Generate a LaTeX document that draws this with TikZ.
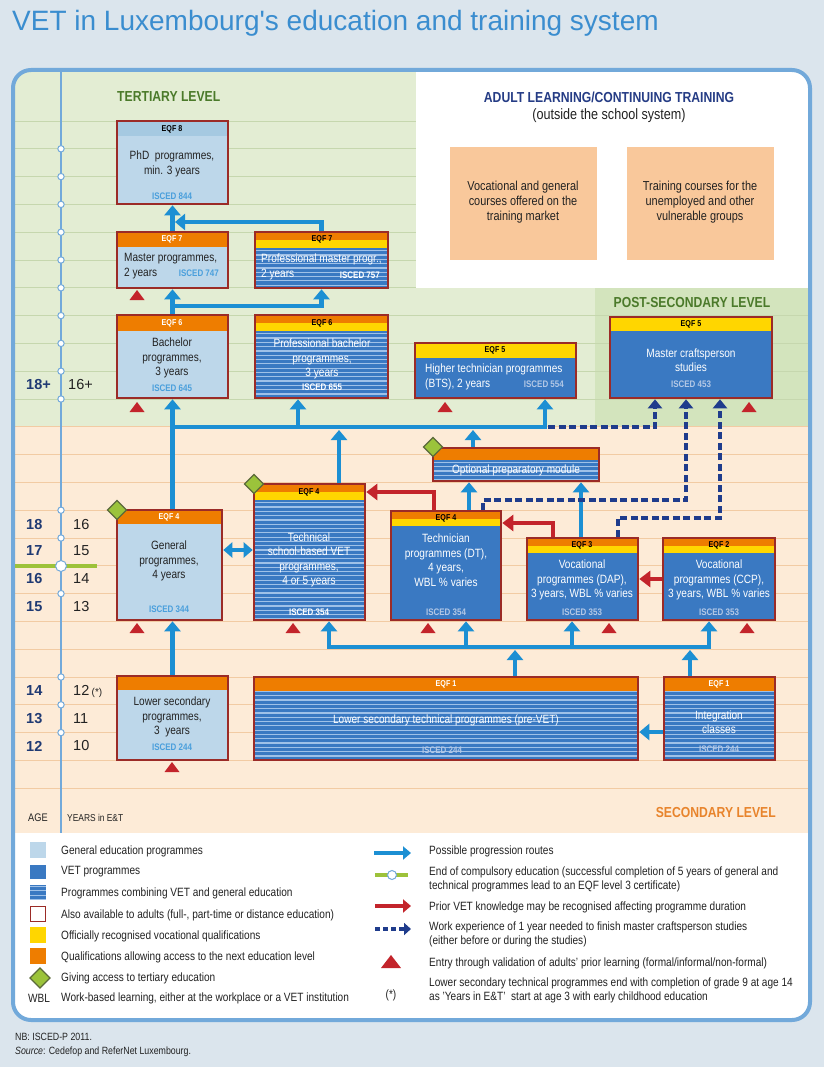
\documentclass[tikz,border=0pt]{standalone}
\usepackage{fontspec}
\setmainfont{Liberation Sans}[FakeStretch=0.84]
\newfontfamily\widefont{Liberation Sans}
\usetikzlibrary{arrows.meta,fit}
\definecolor{pagebg}{HTML}{DBE5ED}
\definecolor{framec}{HTML}{72A9DA}
\definecolor{tertbg}{HTML}{E3EDD3}
\definecolor{postbg}{HTML}{D3E4BD}
\definecolor{secbg}{HTML}{FDEBD7}
\definecolor{gridg}{HTML}{C6D7AE}
\definecolor{gridp}{HTML}{F2CBA3}
\definecolor{boxred}{HTML}{9B2B27}
\definecolor{genblue}{HTML}{BDD7EA}
\definecolor{genhead}{HTML}{A5C9E1}
\definecolor{vetblue}{HTML}{3A79C2}
\definecolor{stripec}{HTML}{9FC1E8}
\definecolor{qorange}{HTML}{EE7D00}
\definecolor{qyellow}{HTML}{FFD600}
\definecolor{arrblue}{HTML}{1C8FD3}
\definecolor{arrred}{HTML}{C3242B}
\definecolor{navy}{HTML}{1F3C8C}
\definecolor{dgreen}{HTML}{9BC33B}
\definecolor{dborder}{HTML}{5B6A3A}
\definecolor{txtdark}{HTML}{222222}
\definecolor{isclight}{HTML}{4A9FDC}
\definecolor{iscgrey}{HTML}{B3C8E6}
\definecolor{titleblue}{HTML}{3A8DCF}
\definecolor{tertgreen}{HTML}{4B7A2A}
\definecolor{adultnavy}{HTML}{253C85}
\definecolor{secorange}{HTML}{E8842C}
\definecolor{adultbox}{HTML}{F9C89B}
\definecolor{agenavy}{HTML}{1F3A73}
\definecolor{greenline}{HTML}{9DC23A}

\newcommand\genbody[4]{\fill[genblue] (#1,#2) rectangle (#3,#4);}
\newcommand\vetbody[4]{\fill[vetblue] (#1,#2) rectangle (#3,#4);}
\newcommand\stripebody[4]{%
  \begin{scope}
    \clip (#1,#2) rectangle (#3,#4);
    \fill[vetblue] (#1,#2) rectangle (#3,#4);
    \foreach \k in {0,...,34} {\draw[stripec, line width=1.2pt] (#1,#2+1.5+4.3*\k) -- (#3,#2+1.5+4.3*\k);}
  \end{scope}}
\newcommand\band[5]{\fill[#1] (#2,#3) rectangle (#4,#5);}
\newcommand\redtri[2]{\fill[arrred] (#1,#2) -- (#1+7.5,#2+10) -- (#1-7.5,#2+10) -- cycle;}
\newcommand\gdiam[3]{\filldraw[fill=dgreen, draw=dborder, line width=1.2pt] (#1-#3,#2) -- (#1,#2-#3) -- (#1+#3,#2) -- (#1,#2+#3) -- cycle;}

\begin{document}
\begin{tikzpicture}[x=1pt,y=-1pt,
  boxframe/.style={draw=boxred, line width=2.6pt, inner sep=0pt},
  barrow/.style={draw=arrblue, line width=4.5pt, -{Triangle[width=16pt,length=10pt]}},
  bdarrow/.style={draw=arrblue, line width=4.5pt, {Triangle[width=15pt,length=9pt]}-{Triangle[width=15pt,length=9pt]}},
  rarrow/.style={draw=arrred, line width=4.5pt, -{Triangle[width=16pt,length=11pt]}},
  darrow/.style={draw=navy, line width=3.8pt, dash pattern=on 7pt off 3.5pt, -{Triangle[width=14pt,length=9pt]}},
  t/.style={inner sep=0pt, align=center, font=\fontsize{12}{14.5}\selectfont},
  tdark/.style={t, text=txtdark},
  twhite/.style={t, text=white},
  eqfw/.style={inner sep=0pt, font=\bfseries\fontsize{8.5}{9}\selectfont, text=white},
  eqfk/.style={inner sep=0pt, font=\bfseries\fontsize{8.5}{9}\selectfont, text=black},
  isc/.style={inner sep=0pt, font=\bfseries\fontsize{9.5}{10}\selectfont},
  iscl/.style={isc, text=isclight},
  iscw/.style={isc, text=white},
  iscg/.style={isc, text=iscgrey},
  lvl/.style={inner sep=0pt, font=\bfseries\fontsize{14.5}{15}\selectfont},
  agen/.style={anchor=west, inner sep=0pt, font=\widefont\bfseries\fontsize{14.5}{15}\selectfont, text=agenavy},
  yrs/.style={anchor=west, inner sep=0pt, font=\widefont\fontsize{14.5}{15}\selectfont, text=txtdark},
  leg/.style={anchor=west, inner sep=0pt, align=left, font=\fontsize{12}{14}\selectfont, text=txtdark},
  abox/.style={inner sep=0pt, align=center, font=\fontsize{13}{15}\selectfont, text=txtdark}
]
\fill[pagebg] (0,0) rectangle (824,1067);
\useasboundingbox (0,0) rectangle (824,1067);
\node[anchor=base west, inner sep=0pt, font=\widefont\fontsize{28}{30}\selectfont, text=titleblue] (title) at (12,31) {VET in Luxembourg's education and training system};

% backgrounds
\begin{scope}
  \clip[rounded corners=18pt] (13,70) rectangle (810,1020);
  \fill[white] (13,70) rectangle (810,1020);
  \fill[tertbg] (13,70) rectangle (810,426);
  \fill[postbg] (595,288) rectangle (810,426);
  \fill[secbg] (13,426) rectangle (810,833);
  \foreach \k in {0,...,10} {\draw[gridg, line width=0.8pt] (13,121+27.8*\k) -- (810,121+27.8*\k);}
  \foreach \k in {11,...,24} {\draw[gridp, line width=0.8pt] (13,121+27.8*\k) -- (810,121+27.8*\k);}
  \fill[white] (416,60) rectangle (815,288);
\end{scope}
\draw[framec, line width=4pt, rounded corners=18pt] (13,70) rectangle (810,1020);
\draw[framec, line width=1.6pt] (61,70) -- (61,833);
\draw[greenline, line width=4pt] (15,566) -- (97,566);
\foreach \k in {1,2,3,4,5,6,7,8,9,10,14,15,17,20,21,22} {\filldraw[fill=white, draw=framec, line width=1pt] (61,121+27.8*\k) circle (3.2pt);}
\filldraw[fill=white, draw=framec, line width=1pt] (61,566) circle (5.5pt);

% ages
\node[agen] (a1) at (26,385) {18+}; \node[yrs] (y1) at (68,385) {16+};
\node[agen] (a2) at (26,525) {18}; \node[yrs] (y2) at (73,525) {16};
\node[agen] (a3) at (26,551) {17}; \node[yrs] (y3) at (73,551) {15};
\node[agen] (a4) at (26,579) {16}; \node[yrs] (y4) at (73,579) {14};
\node[agen] (a5) at (26,607) {15}; \node[yrs] (y5) at (73,607) {13};
\node[agen] (a6) at (26,691) {14}; \node[yrs] (y6) at (73,691) {12\,{\fontsize{10}{10}\selectfont(*)}};
\node[agen] (a7) at (26,719) {13}; \node[yrs] (y7) at (73,719) {11};
\node[agen] (a8) at (26,746) {12}; \node[yrs] (y8) at (73,746) {10};
\node[anchor=west, inner sep=0pt, font=\fontsize{11}{12}\selectfont, text=txtdark] (agelbl) at (28,818) {AGE};
\node[anchor=west, inner sep=0pt, font=\fontsize{10}{12}\selectfont, text=txtdark] (yrslbl) at (67,818) {YEARS in E\&T};

% level labels
\node[lvl, anchor=west, text=tertgreen] (tert) at (117,97) {TERTIARY LEVEL};
\node[lvl, text=adultnavy] (adult) at (609,97) {ADULT LEARNING/CONTINUING TRAINING};
\node[inner sep=0pt, font=\fontsize{15}{16}\selectfont, text=txtdark] (adult2) at (609,116) {(outside the school system)};
\node[lvl, text=tertgreen] (post) at (692,303) {POST-SECONDARY LEVEL};
\node[lvl, anchor=east, text=secorange] (sec) at (776,812) {SECONDARY LEVEL};

% adult boxes
\node[fill=adultbox, inner sep=0pt, fit={(450,147)(597,260)}] (ad1) {};
\node[abox] (ad1t) at (523,202) {Vocational and general\\courses offered on the\\training market};
\node[fill=adultbox, inner sep=0pt, fit={(627,147)(774,260)}] (ad2) {};
\node[abox] (ad2t) at (700,202) {Training courses for the\\unemployed and other\\vulnerable groups};

% PhD
\genbody{117}{121}{228}{204}
\band{genhead}{117}{121}{228}{136}
\node[boxframe, fit={(117,121)(228,204)}] (phd) {};
\node[eqfk] (phde) at (172,129) {EQF 8};
\node[tdark] (phdt) at (172,164) {PhD\ \ programmes,\\min. 3 years};
\node[iscl] (phdi) at (172,196) {ISCED 844};
% Master
\genbody{117}{232}{228}{288}
\band{qorange}{117}{232}{228}{247}
\node[boxframe, fit={(117,232)(228,288)}] (master) {};
\node[eqfw] (mase) at (172,239.5) {EQF 7};
\node[tdark, anchor=west, align=left] (mast) at (124,266) {Master programmes,\\2 years};
\node[iscl, anchor=east] (masi) at (219,273) {ISCED 747};
% Professional master
\stripebody{255}{232}{388}{288}
\band{qorange}{255}{232}{388}{240}
\band{qyellow}{255}{240}{388}{248}
\node[boxframe, fit={(255,232)(388,288)}] (profm) {};
\node[eqfk] (pme) at (322,239.5) {EQF 7};
\node[twhite, anchor=west, align=left] (pmt) at (261,267) {Professional master progr.,\\2 years};
\node[iscw, anchor=east] (pmi) at (380,275) {ISCED 757};
% Bachelor
\genbody{117}{315}{228}{398}
\band{qorange}{117}{315}{228}{331}
\node[boxframe, fit={(117,315)(228,398)}] (bach) {};
\node[eqfw] (bae) at (172,323) {EQF 6};
\node[tdark] (bat) at (172,358) {Bachelor\\programmes,\\3 years};
\node[iscl] (bai) at (172,388) {ISCED 645};
% Professional bachelor
\stripebody{255}{315}{388}{398}
\band{qorange}{255}{315}{388}{323}
\band{qyellow}{255}{323}{388}{331}
\node[boxframe, fit={(255,315)(388,398)}] (pb) {};
\node[eqfk] (pbe) at (322,323) {EQF 6};
\node[twhite] (pbt) at (322,359) {Professional bachelor\\programmes,\\3 years};
\node[iscw] (pbi) at (322,387) {ISCED 655};
% BTS
\vetbody{415}{343}{576}{398}
\band{qyellow}{415}{343}{576}{358}
\node[boxframe, fit={(415,343)(576,398)}] (bts) {};
\node[eqfk] (btse) at (495,350.5) {EQF 5};
\node[twhite, anchor=west, align=left] (btst) at (425,377) {Higher technician programmes\\(BTS), 2 years};
\node[iscg, anchor=east] (btsi) at (564,384) {ISCED 554};
% Master craftsperson
\vetbody{610}{317}{772}{398}
\band{qyellow}{610}{317}{772}{331}
\node[boxframe, fit={(610,317)(772,398)}] (mc) {};
\node[eqfk] (mce) at (691,324) {EQF 5};
\node[twhite] (mct) at (691,360) {Master craftsperson\\studies};
\node[iscg] (mci) at (691,384) {ISCED 453};
% Optional preparatory module
\stripebody{433}{448}{599}{481}
\band{qorange}{433}{448}{599}{460}
\node[boxframe, fit={(433,448)(599,481)}] (opt) {};
\node[twhite] (optt) at (516,470) {Optional preparatory module};
% General
\genbody{117}{510}{222}{620}
\band{qorange}{117}{510}{222}{524}
\node[boxframe, fit={(117,510)(222,620)}] (gen) {};
\node[eqfw] (gene) at (169,517) {EQF 4};
\node[tdark] (gent) at (169,561) {General\\programmes,\\4 years};
\node[iscl] (geni) at (169,609) {ISCED 344};
% Technical school-based
\stripebody{254}{484}{365}{620}
\band{qorange}{254}{484}{365}{492}
\band{qyellow}{254}{492}{365}{500}
\node[boxframe, fit={(254,484)(365,620)}] (tech) {};
\node[eqfk] (tece) at (309,492) {EQF 4};
\node[twhite] (tect) at (309,560) {Technical\\school-based VET\\programmes,\\4 or 5 years};
\node[iscw] (teci) at (309,612) {ISCED 354};
% Technician DT
\vetbody{391}{511}{501}{620}
\band{qorange}{391}{511}{501}{519}
\band{qyellow}{391}{519}{501}{526}
\node[boxframe, fit={(391,511)(501,620)}] (dt) {};
\node[eqfk] (dte) at (446,518.5) {EQF 4};
\node[twhite] (dtt) at (446,560) {Technician\\programmes (DT),\\4 years,\\WBL \% varies};
\node[iscg] (dti) at (446,612) {ISCED 354};
% DAP
\vetbody{527}{538}{638}{620}
\band{qorange}{527}{538}{638}{546}
\band{qyellow}{527}{546}{638}{553}
\node[boxframe, fit={(527,538)(638,620)}] (dap) {};
\node[eqfk] (dape) at (582,545.5) {EQF 3};
\node[twhite] (dapt) at (582,580) {Vocational\\programmes (DAP),\\3 years, WBL \% varies};
\node[iscg] (dapi) at (582,612) {ISCED 353};
% CCP
\vetbody{663}{538}{775}{620}
\band{qorange}{663}{538}{775}{546}
\band{qyellow}{663}{546}{775}{553}
\node[boxframe, fit={(663,538)(775,620)}] (ccp) {};
\node[eqfk] (ccpe) at (719,545.5) {EQF 2};
\node[twhite] (ccpt) at (719,580) {Vocational\\programmes (CCP),\\3 years, WBL \% varies};
\node[iscg] (ccpi) at (719,612) {ISCED 353};
% Lower secondary
\genbody{117}{676}{228}{760}
\band{qorange}{117}{676}{228}{690}
\node[boxframe, fit={(117,676)(228,760)}] (lower) {};
\node[tdark] (lowt) at (172,717) {Lower secondary\\programmes,\\3\ \ years};
\node[iscl] (lowi) at (172,747) {ISCED 244};
% pre-VET
\stripebody{254}{677}{638}{760}
\band{qorange}{254}{677}{638}{691}
\node[boxframe, fit={(254,677)(638,760)}] (prevet) {};
\node[eqfw] (pve) at (446,684) {EQF 1};
\node[twhite] (pvt) at (446,720) {Lower secondary technical programmes (pre-VET)};
\node[iscg] (pvi) at (442,750) {ISCED 244};
% Integration
\stripebody{664}{677}{775}{760}
\band{qorange}{664}{677}{775}{691}
\node[boxframe, fit={(664,677)(775,760)}] (integ) {};
\node[eqfw] (ine) at (719,684) {EQF 1};
\node[twhite] (int) at (719,722) {Integration\\classes};
\node[iscg] (ini) at (719,749) {ISCED 244};

% junction coordinates
\coordinate (jPhD) at (175,222);
\coordinate (jB) at (172,306);
\coordinate (m1) at (172,427);
\coordinate (m2) at (545,427);
\coordinate (m3) at (298,427);
\coordinate (t1) at (339,430);
\coordinate (o1) at (473,430);
\coordinate (d0) at (548,427);
\coordinate (d1) at (655,427);
\coordinate (d2) at (483,500);
\coordinate (d3) at (686,500);
\coordinate (d4) at (618,518);
\coordinate (d5) at (720,518);
\coordinate (o2) at (469,0);
\coordinate (o3) at (581,0);
\coordinate (r1) at (434,492);
\coordinate (r2) at (553,523);
\coordinate (r3) at (0,579);
\coordinate (g1) at (0,550);
\coordinate (n1) at (329,647);
\coordinate (n2) at (466,647);
\coordinate (n3) at (572,647);
\coordinate (n4) at (709,647);
\coordinate (n5) at (515,650);
\coordinate (n6) at (690,650);
\coordinate (i1) at (0,732);

% blue progression arrows
\draw[barrow] (master.north) -- (phd.south);
\draw[barrow] (profm.north) |- (jPhD);
\draw[barrow] (bach.north) -- (master.south);
\draw[barrow] (jB) -| (profm.south);
\draw[barrow] (bach.south |- gen.north) -- (bach.south);
\draw[barrow] (m1) -- (m2) -- (m2 |- bts.south);
\draw[barrow] (m3) -- (m3 |- pb.south);
\draw[barrow] (t1 |- tech.north) -- (t1);
\draw[barrow] (o1 |- opt.north) -- (o1);
\draw[barrow] (o2 |- dt.north) -- (o2 |- opt.south);
\draw[barrow] (o3 |- dap.north) -- (o3 |- opt.south);
\draw[bdarrow] (gen.east |- g1) -- (tech.west |- g1);
\draw[barrow] (lower.north) -- (lower.north |- gen.south);
\draw[barrow] (n4) -- (n1) -- (n1 |- tech.south);
\draw[barrow] (n1) -- (n4) -- (n4 |- ccp.south);
\draw[barrow] (n2) -- (n2 |- dt.south);
\draw[barrow] (n3) -- (n3 |- dap.south);
\draw[barrow] (n5 |- prevet.north) -- (n5);
\draw[barrow] (n6 |- integ.north) -- (n6);
\draw[barrow] (integ.west |- i1) -- (prevet.east |- i1);

% dashed work experience
\draw[darrow] (d0) -- (d1) -- (d1 |- mc.south);
\draw[darrow] (d2 |- dt.north) -- (d2) -- (d3) -- (d3 |- mc.south);
\draw[darrow] (d4 |- dap.north) -- (d4) -- (d5) -- (d5 |- mc.south);

% red prior VET knowledge
\draw[rarrow] (r1 |- dt.north) -- (r1) -- (r1 -| tech.east);
\draw[rarrow] (r2 |- dap.north) -- (r2) -- (r2 -| dt.east);
\draw[rarrow] (ccp.west |- r3) -- (dap.east |- r3);

% red triangles
\redtri{137}{290}
\redtri{137}{402}
\redtri{445}{402}
\redtri{749}{402}
\redtri{137}{623}
\redtri{293}{623}
\redtri{428}{623}
\redtri{609}{623}
\redtri{747}{623}
\redtri{172}{762}

% diamonds
\gdiam{117}{510}{9.5}
\gdiam{254}{484}{9.5}
\gdiam{433}{447}{9.5}

% legend left
\fill[genblue] (30,842) rectangle (46,858);
\fill[vetblue] (30,865) rectangle (46,879);
\stripebody{30}{885}{46}{900}
\draw[boxred, line width=1.2pt, fill=white] (30.6,906.6) rectangle (45.4,921.4);
\fill[qyellow] (30,927) rectangle (46,943);
\fill[qorange] (30,948) rectangle (46,964);
\gdiam{40}{978}{10}
\node[inner sep=0pt, font=\fontsize{12}{14}\selectfont, text=txtdark] (wbl) at (39,998) {WBL};
\node[leg] (l1) at (61,851) {General education programmes};
\node[leg] (l2) at (61,872) {VET programmes};
\node[leg] (l3) at (61,893) {Programmes combining VET and general education};
\node[leg] (l4) at (61,915) {Also available to adults (full-, part-time or distance education)};
\node[leg] (l5) at (61,936) {Officially recognised vocational qualifications};
\node[leg] (l6) at (61,957) {Qualifications allowing access to the next education level};
\node[leg] (l7) at (61,978) {Giving access to tertiary education};
\node[leg] (l8) at (61,998) {Work-based learning, either at the workplace or a VET institution};

% legend right
\coordinate (la1) at (374,853); \coordinate (la2) at (411,853);
\draw[draw=arrblue, line width=4.5pt, -{Triangle[width=13pt,length=8pt]}] (la1) -- (la2);
\coordinate (lg1) at (375,875); \coordinate (lg2) at (408,875);
\draw[greenline, line width=4pt] (lg1) -- (lg2);
\filldraw[fill=white, draw=framec, line width=1pt] (392,875) circle (4.5pt);
\coordinate (lr1) at (375,906); \coordinate (lr2) at (411,906);
\draw[draw=arrred, line width=4.5pt, -{Triangle[width=13pt,length=8pt]}] (lr1) -- (lr2);
\coordinate (ld1) at (375,929); \coordinate (ld2) at (411,929);
\draw[draw=navy, line width=3.5pt, dash pattern=on 5pt off 3pt, -{Triangle[width=12pt,length=7pt]}] (ld1) -- (ld2);
\fill[arrred] (391,955) -- (401,968) -- (381,968) -- cycle;
\node[inner sep=0pt, font=\fontsize{12}{14}\selectfont, text=txtdark] (ast) at (391,995) {(*)};
\node[leg] (r1t) at (429,851) {Possible progression routes};
\node[leg] (r2t) at (429,879) {End of compulsory education (successful completion of 5 years of general and\\technical programmes lead to an EQF level 3 certificate)};
\node[leg] (r3t) at (429,907) {Prior VET knowledge may be recognised affecting programme duration};
\node[leg] (r4t) at (429,934.5) {Work experience of 1 year needed to finish master craftsperson studies\\(either before or during the studies)};
\node[leg] (r5t) at (429,963) {Entry through validation of adults' prior learning (formal/informal/non-formal)};
\node[leg] (r6t) at (429,990.5) {Lower secondary technical programmes end with completion of grade 9 at age 14\\as 'Years in E\&T'\ \ start at age 3 with early childhood education};

% footer
\node[anchor=west, inner sep=0pt, font=\fontsize{10.5}{12}\selectfont, text=txtdark] (nb) at (15,1037) {NB: ISCED-P 2011.};
\node[anchor=west, inner sep=0pt, font=\fontsize{10.5}{12}\selectfont, text=txtdark] (src) at (15,1052) {\textit{Source}: Cedefop and ReferNet Luxembourg.};
\end{tikzpicture}
\end{document}
